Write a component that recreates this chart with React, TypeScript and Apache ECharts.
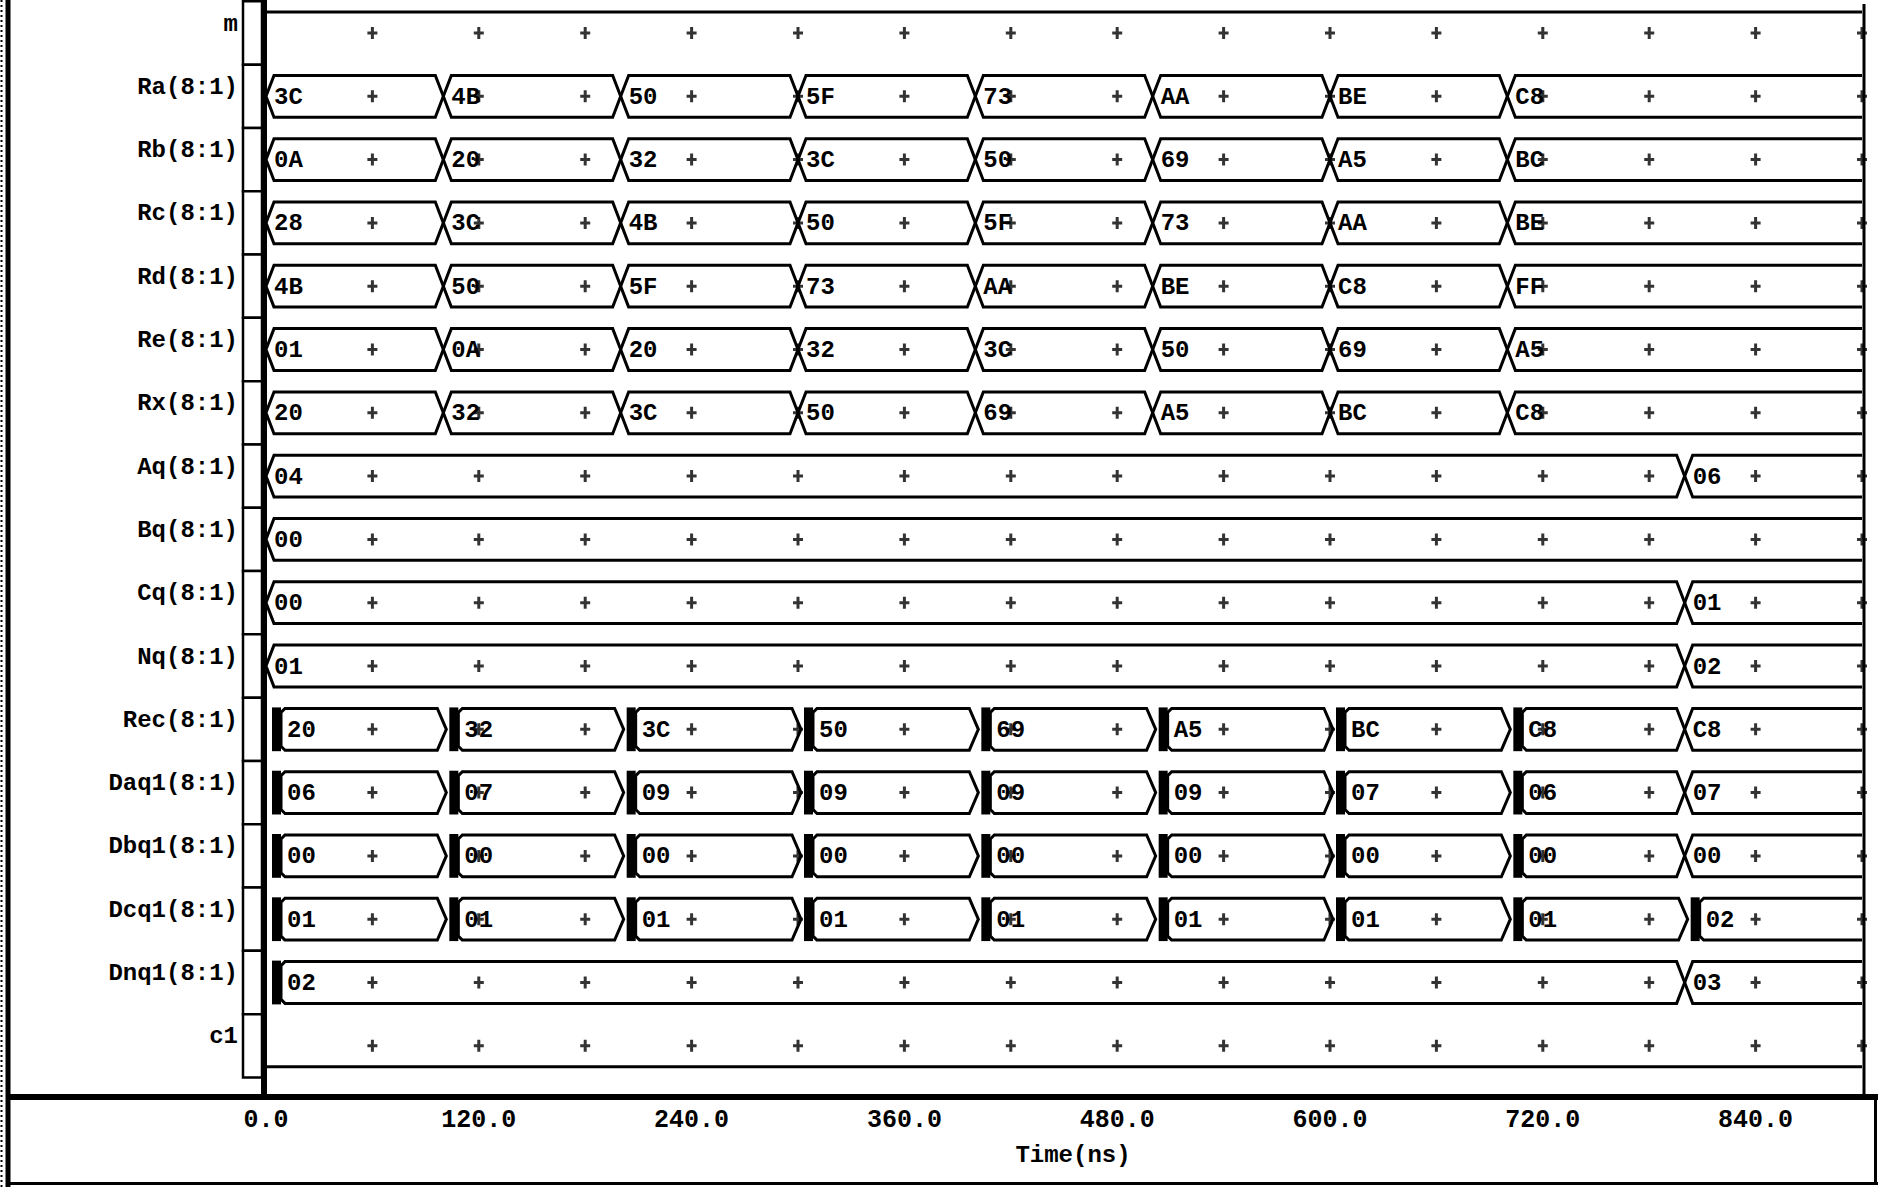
import React, { useEffect, useRef } from 'react';
import * as echarts from 'echarts';

// ---------- data ----------
const signalNames = [
  'm', 'Ra(8:1)', 'Rb(8:1)', 'Rc(8:1)', 'Rd(8:1)', 'Re(8:1)', 'Rx(8:1)',
  'Aq(8:1)', 'Bq(8:1)', 'Cq(8:1)', 'Nq(8:1)', 'Rec(8:1)', 'Daq1(8:1)',
  'Dbq1(8:1)', 'Dcq1(8:1)', 'Dnq1(8:1)', 'c1',
];
const endTime = 900;
const busTimes = [0, 100, 200, 300, 400, 500, 600, 700];
const latchTimes = [0, 100, 200, 300, 400, 500, 600, 700, 800];
const lateTimes = [0, 800];
const wholeTimes = [0];

const raValues = ['3C', '4B', '50', '5F', '73', 'AA', 'BE', 'C8'];
const rbValues = ['0A', '20', '32', '3C', '50', '69', 'A5', 'BC'];
const rcValues = ['28', '3C', '4B', '50', '5F', '73', 'AA', 'BE'];
const rdValues = ['4B', '50', '5F', '73', 'AA', 'BE', 'C8', 'FF'];
const reValues = ['01', '0A', '20', '32', '3C', '50', '69', 'A5'];
const rxValues = ['20', '32', '3C', '50', '69', 'A5', 'BC', 'C8'];
const aqValues = ['04', '06'];
const bqValues = ['00'];
const cqValues = ['00', '01'];
const nqValues = ['01', '02'];
const recValues = ['20', '32', '3C', '50', '69', 'A5', 'BC', 'C8', 'C8'];
const daq1Values = ['06', '07', '09', '09', '09', '09', '07', '06', '07'];
const dbq1Values = ['00', '00', '00', '00', '00', '00', '00', '00', '00'];
const dcq1Values = ['01', '01', '01', '01', '01', '01', '01', '01', '02'];
const dnq1Values = ['02', '03'];

// edge style at the start of each value: 'cross' (X) or 'bar' (latched, thick bar)
const latchEdges = ['bar', 'bar', 'bar', 'bar', 'bar', 'bar', 'bar', 'bar', 'cross'];
const dcq1Edges = ['bar', 'bar', 'bar', 'bar', 'bar', 'bar', 'bar', 'bar', 'bar'];
const dnq1Edges = ['bar', 'cross'];

// single-bit levels
const mLevel = 'high';
const c1Level = 'low';

const markTimes = [60, 120, 180, 240, 300, 360, 420, 480, 540, 600, 660, 720, 780, 840, 900];
const tickStep = 120;

type Row = { level?: string; times: number[]; values: string[]; edges?: string[] };
const rows: Row[] = [
  { level: mLevel, times: wholeTimes, values: [''] },
  { times: busTimes, values: raValues },
  { times: busTimes, values: rbValues },
  { times: busTimes, values: rcValues },
  { times: busTimes, values: rdValues },
  { times: busTimes, values: reValues },
  { times: busTimes, values: rxValues },
  { times: lateTimes, values: aqValues },
  { times: wholeTimes, values: bqValues },
  { times: lateTimes, values: cqValues },
  { times: lateTimes, values: nqValues },
  { times: latchTimes, values: recValues, edges: latchEdges },
  { times: latchTimes, values: daq1Values, edges: latchEdges },
  { times: latchTimes, values: dbq1Values, edges: latchEdges },
  { times: latchTimes, values: dcq1Values, edges: dcq1Edges },
  { times: lateTimes, values: dnq1Values, edges: dnq1Edges },
  { level: c1Level, times: wholeTimes, values: [''] },
];

type Seg = { row: number; t0: number; t1: number; label: string; level?: string; start: string; next: string | null };
const segments: Seg[] = [];
rows.forEach((r, ri) => {
  r.times.forEach((t, i) => {
    const last = i === r.times.length - 1;
    segments.push({
      row: ri,
      t0: t,
      t1: last ? endTime : r.times[i + 1],
      label: r.values[i],
      level: r.level,
      start: r.edges ? r.edges[i] : 'cross',
      next: last ? null : (r.edges ? r.edges[i + 1] : 'cross'),
    });
  });
});

const markData: number[][] = [];
signalNames.forEach((_, ri) => markTimes.forEach((t) => markData.push([t, ri])));

const FONT = '"Liberation Mono", "DejaVu Sans Mono", monospace';
const INK = '#000';

export default function App() {
  const ref = useRef<HTMLDivElement>(null);
  useEffect(() => {
    if (!ref.current) return;
    const chart = echarts.init(ref.current, undefined, { renderer: 'svg' });

    const renderSeg = (params: any, api: any) => {
      const s = segments[params.dataIndex];
      const a = api.coord([s.t0, s.row]);
      const b = api.coord([s.t1, s.row]);
      const band = Math.abs(api.coord([0, 1])[1] - api.coord([0, 0])[1]);
      const xs = a[0];
      const xe = b[0];
      const yc = a[1];
      const h = band * 0.33;
      const top = yc - h;
      const bot = yc + h;
      const lineStyle = { stroke: INK, lineWidth: 3, fill: 'none' };
      if (s.level) {
        const y = s.level === 'high' ? top : bot;
        return { type: 'line', shape: { x1: xs, y1: y, x2: xe, y2: y }, style: lineStyle };
      }
      const d = 8;
      const children: any[] = [];
      let leftPts: number[][];
      if (s.start === 'bar') {
        leftPts = [[xs + 19, bot], [xs + 15, bot - 4], [xs + 15, top + 4], [xs + 19, top]];
        children.push({
          type: 'rect',
          shape: { x: xs + 6, y: top - 1, width: 9, height: bot - top + 2 },
          style: { fill: INK },
        });
      } else {
        leftPts = [[xs + d, bot], [xs, yc], [xs + d, top]];
      }
      if (s.next === null) {
        children.push({
          type: 'polyline',
          shape: { points: [[xe, bot], ...leftPts, [xe, top]] },
          style: lineStyle,
        });
      } else {
        const rightPts = s.next === 'bar'
          ? [[xe - 6, top], [xe + 3, yc], [xe - 6, bot]]
          : [[xe - d, top], [xe, yc], [xe - d, bot]];
        children.push({
          type: 'polygon',
          shape: { points: [...leftPts, ...rightPts] },
          style: lineStyle,
        });
      }
      children.push({
        type: 'text',
        x: xs + (s.start === 'bar' ? 21 : 8),
        y: yc + 1,
        style: {
          text: s.label,
          fill: INK,
          font: `bold 24px ${FONT}`,
          align: 'left',
          verticalAlign: 'middle',
        },
      });
      return { type: 'group', children };
    };

    const renderCell = (params: any, api: any) => {
      const p = api.coord([0, params.dataIndex]);
      const band = Math.abs(api.coord([0, 1])[1] - api.coord([0, 0])[1]);
      return {
        type: 'rect',
        shape: { x: p[0] - 23, y: p[1] - band / 2, width: 19, height: band },
        style: { fill: '#fff', stroke: INK, lineWidth: 2.5 },
      };
    };

    chart.setOption({
      animation: false,
      backgroundColor: '#fff',
      grid: { left: 266, right: 16, top: 1.35, height: 1076.1 },
      xAxis: {
        type: 'value',
        min: 0,
        max: endTime,
        interval: tickStep,
        axisLine: { show: false },
        axisTick: { show: false },
        splitLine: { show: false },
        axisLabel: {
          margin: 31,
          color: INK,
          fontFamily: FONT,
          fontWeight: 'bold',
          fontSize: 25,
          formatter: (v: number) => (v % tickStep === 0 ? v.toFixed(1) : ''),
        },
        name: 'Time(ns)',
        nameLocation: 'middle',
        nameGap: 66,
        nameTextStyle: {
          color: INK,
          fontFamily: FONT,
          fontWeight: 'bold',
          fontSize: 24,
          padding: [0, 0, 0, 18],
        },
      },
      yAxis: {
        type: 'category',
        data: signalNames,
        inverse: true,
        axisLine: { show: false },
        axisTick: { show: false },
        splitLine: { show: false },
        axisLabel: {
          margin: 28,
          color: INK,
          fontFamily: FONT,
          fontWeight: 'bold',
          fontSize: 24,
          verticalAlign: 'bottom',
          lineHeight: 18,
        },
      },
      series: [
        {
          type: 'custom',
          name: 'cells',
          silent: true,
          data: signalNames.map((_, i) => [0, i]),
          encode: { x: 0, y: 1 },
          renderItem: renderCell,
        },
        {
          type: 'custom',
          name: 'signals',
          silent: true,
          data: segments.map((s) => [s.row, s.t0, s.t1]),
          encode: { x: [1, 2], y: 0 },
          renderItem: renderSeg,
        },
        {
          type: 'scatter',
          name: 'marks',
          silent: true,
          data: markData,
          symbol: 'path://M3.5,0h3v4.5h3.5v3h-3.5v4.5h-3v-4.5h-3.5v-3h3.5z',
          symbolSize: [10, 12],
          itemStyle: { color: INK },
        },
      ],
      graphic: [
        { type: 'line', shape: { x1: 264, y1: 0, x2: 264, y2: 1099 }, style: { stroke: INK, lineWidth: 6 } },
        { type: 'line', shape: { x1: 1864, y1: 4, x2: 1864, y2: 1097 }, style: { stroke: INK, lineWidth: 3 } },
        { type: 'line', shape: { x1: 8, y1: 1097, x2: 1878, y2: 1097 }, style: { stroke: INK, lineWidth: 6 } },
        { type: 'line', shape: { x1: 8, y1: 1183.5, x2: 1878, y2: 1183.5 }, style: { stroke: INK, lineWidth: 3 } },
        { type: 'line', shape: { x1: 1875.5, y1: 1097, x2: 1875.5, y2: 1185 }, style: { stroke: INK, lineWidth: 3 } },
        { type: 'line', shape: { x1: 8, y1: 0, x2: 8, y2: 1187 }, style: { stroke: INK, lineWidth: 5 } },
        { type: 'line', shape: { x1: 1.5, y1: 0, x2: 1.5, y2: 1187 }, style: { stroke: INK, lineWidth: 2, lineDash: [2, 3] } },
      ],
    });
    return () => chart.dispose();
  }, []);

  return (
    <div
      ref={ref}
      style={{ position: 'fixed', left: 0, top: 0, width: 1878, height: 1187, background: '#fff' }}
    />
  );
}
